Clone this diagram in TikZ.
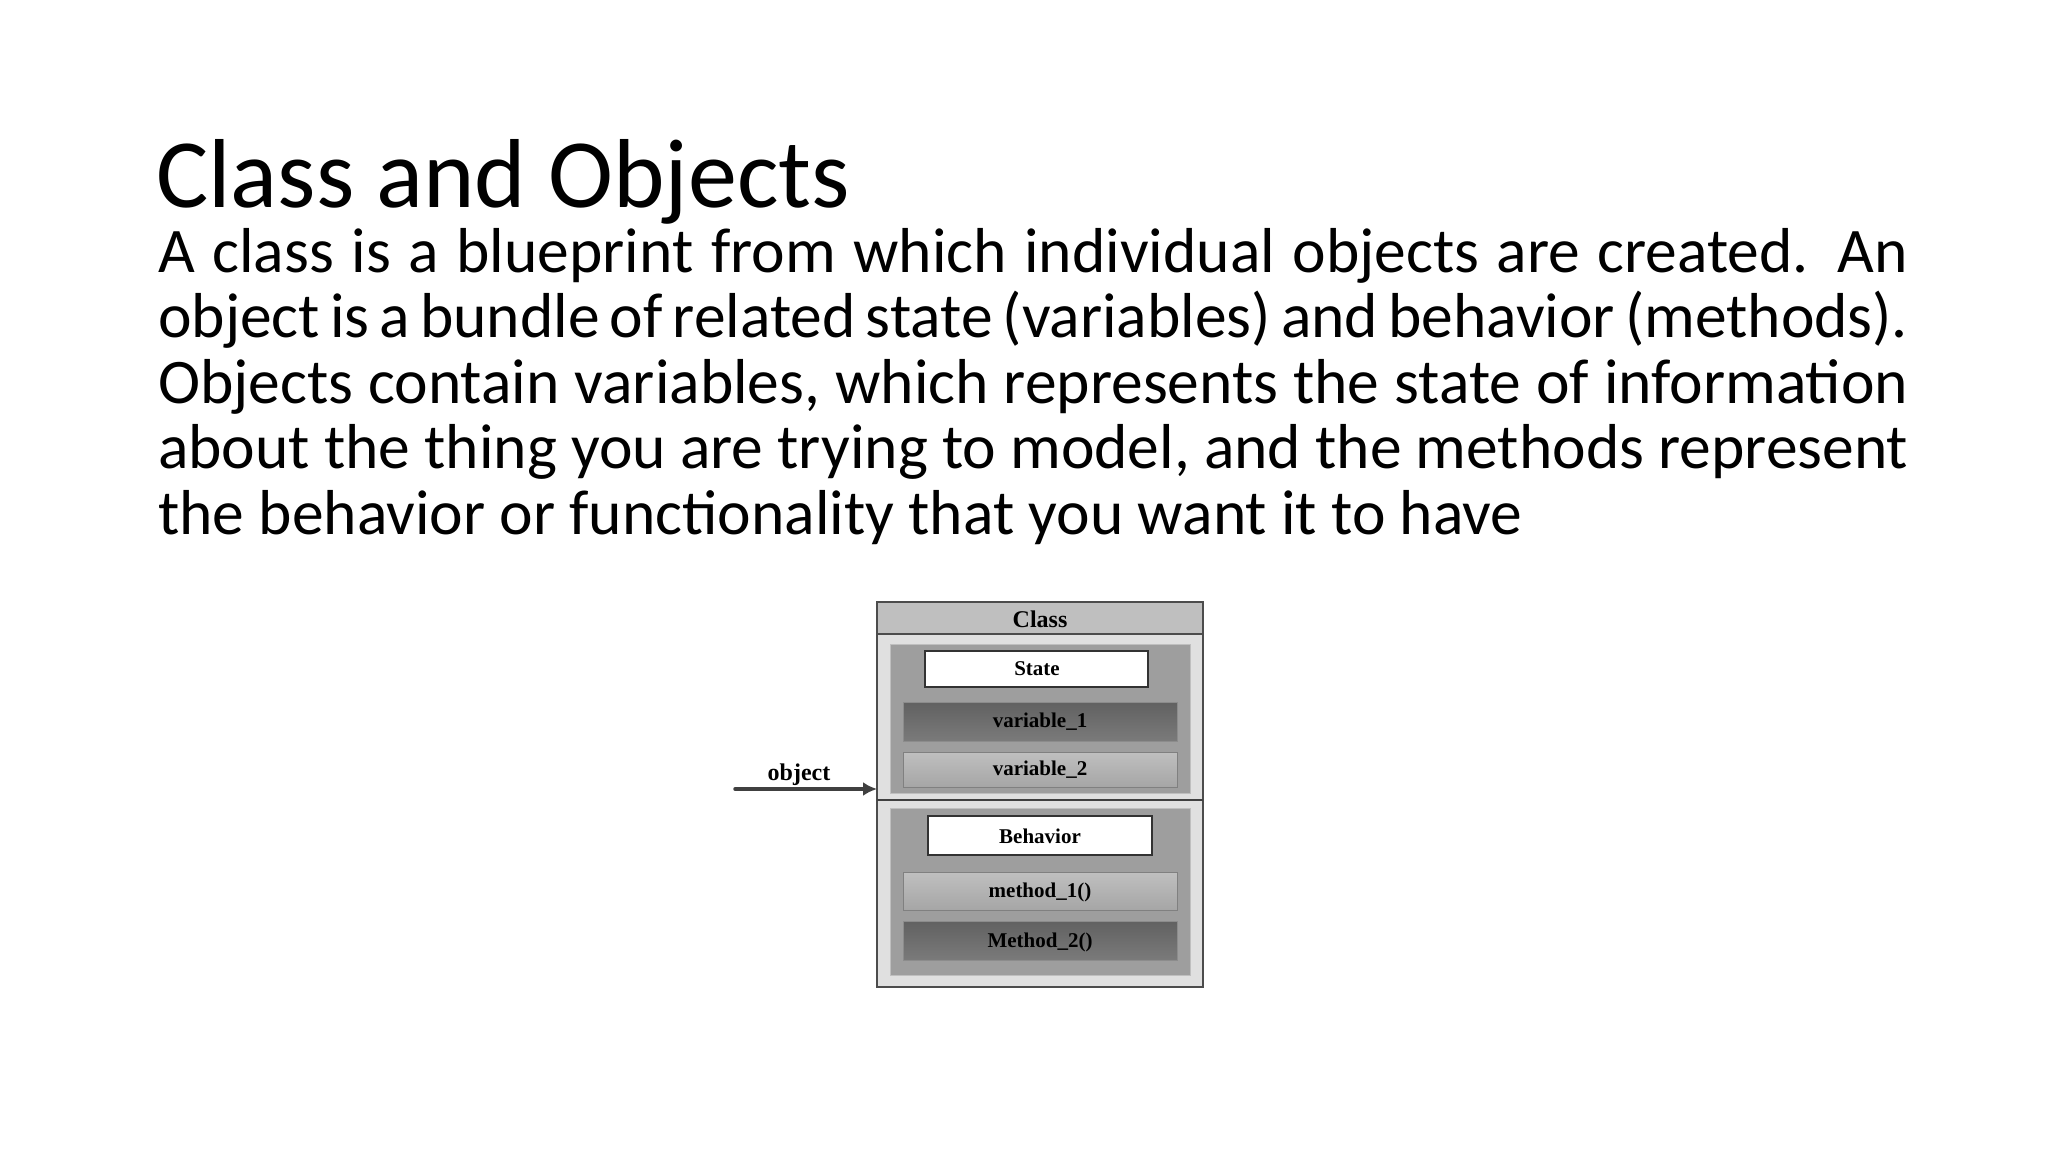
\documentclass[tikz,border=0pt]{standalone}
\usepackage{fontspec}
\usetikzlibrary{arrows.meta}
\setmainfont{Carlito}
\newfontfamily\tms{Liberation Serif}
\begin{document}
\begin{tikzpicture}[x=1pt,y=-1pt,
  lab/.style={font=\tms\bfseries\fontsize{21}{21}\selectfont},
  wbox/.style={draw=black!80,line width=1.2pt,fill=white},
  sect/.style={draw=black!25,line width=1pt,fill=black!38},
  darkbar/.style={draw=black!45,top color=black!62,bottom color=black!52},
  litebar/.style={draw=black!50,top color=black!25,bottom color=black!35}]
\useasboundingbox (0,0) rectangle (2048,1152);
\node[anchor=base west,inner sep=0,font=\fontsize{98}{100}\selectfont] (title) at (156,207) {Class and Objects};
\node[anchor=north west,inner sep=0,text width=1750pt,align=justify,
  font=\fontsize{63.5}{65.5}\selectfont] (body) at (158,228)
  {\hyphenpenalty=10000 A class is a blueprint from which individual objects are created. An object is a bundle of related state (variables) and behavior (methods). Objects contain variables, which represents the state of information about the thing you are trying to model, and the methods represent the behavior or functionality that you want it to have};
% outer class box
\draw[line width=1.5pt,draw=black!70,fill=black!12] (877,602) rectangle (1203,987);
\draw[line width=1.5pt,draw=black!70,fill=black!25] (877,602) rectangle (1203,634);
\node[font=\tms\bfseries\fontsize{24}{24}\selectfont] (cls) at (1040,619) {Class};
\draw[line width=1.5pt,draw=black!75] (877,800) -- (1203,800);
\draw[sect] (890,644) rectangle (1190,793);
\draw[sect] (890,808) rectangle (1190,975);
\draw[wbox] (925,651) rectangle (1148,687);
\node[lab] (st) at (1037,669) {State};
\draw[darkbar] (903,702) rectangle (1177,741);
\node[lab] (v1) at (1040,722) {variable\_1};
\draw[litebar] (903,752) rectangle (1177,787);
\node[lab] (v2) at (1040,770) {variable\_2};
\draw[wbox] (928,816) rectangle (1152,855);
\node[lab] (bh) at (1040,836) {Behavior};
\draw[litebar] (903,872) rectangle (1177,910);
\node[lab] (m1) at (1040,892) {method\_1()};
\draw[darkbar] (903,921) rectangle (1177,960);
\node[lab] (m2) at (1040,942) {Method\_2()};
\coordinate (astart) at (735,789);
\coordinate (aend) at (877,789);
\draw[line width=3.5pt,black!75,-{Latex[length=14pt,width=14pt]},line cap=round] (astart) -- (aend);
\node[font=\tms\bfseries\fontsize{24}{24}\selectfont] (obj) at (799,775) {object};
\end{tikzpicture}
\end{document}
